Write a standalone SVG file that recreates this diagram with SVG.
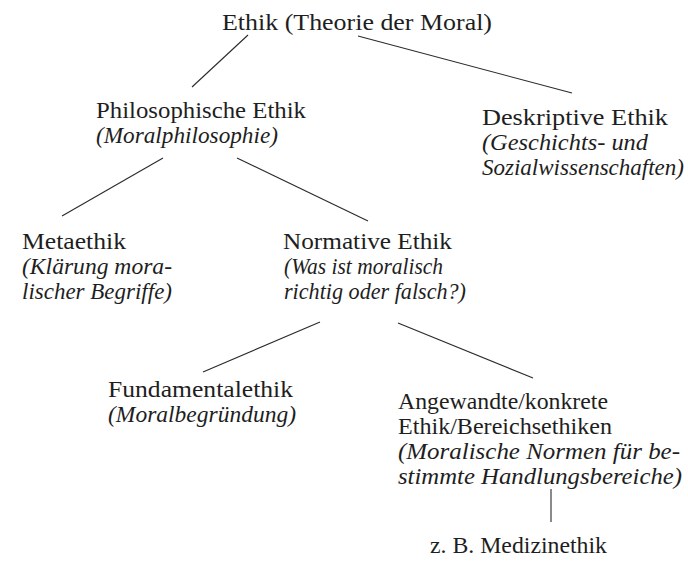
<svg xmlns="http://www.w3.org/2000/svg" width="688" height="571" viewBox="0 0 688 571">
<style>
text{font-family:"Liberation Serif","Times New Roman",serif;font-size:23px;fill:#1e1e1e}
.i{font-style:italic}
.c line{stroke:#2a2a2a;stroke-width:1.1}
</style>
<rect width="688" height="571" fill="#ffffff"/>
<g class="c" id="connectors">
<line x1="248" y1="35" x2="192" y2="87"/>
<line x1="358" y1="36" x2="572" y2="93"/>
<line x1="163" y1="158" x2="62" y2="216"/>
<line x1="237" y1="158" x2="368" y2="221"/>
<line x1="320" y1="322" x2="203" y2="372"/>
<line x1="398" y1="323" x2="533" y2="378"/>
<line x1="551" y1="489" x2="551" y2="522"/>
</g>
<g id="n-ethik"><text x="222" y="30" textLength="270" lengthAdjust="spacingAndGlyphs">Ethik (Theorie der Moral)</text></g>
<g id="n-philosophische"><text x="96" y="118" textLength="210" lengthAdjust="spacingAndGlyphs">Philosophische Ethik</text><text class="i" x="96" y="143" textLength="182" lengthAdjust="spacingAndGlyphs">(Moralphilosophie)</text></g>
<g id="n-deskriptive"><text x="482" y="125" textLength="186" lengthAdjust="spacingAndGlyphs">Deskriptive Ethik</text><text class="i" x="482" y="150" textLength="166" lengthAdjust="spacingAndGlyphs">(Geschichts- und</text><text class="i" x="482" y="175" textLength="202" lengthAdjust="spacingAndGlyphs">Sozialwissenschaften)</text></g>
<g id="n-metaethik"><text x="22" y="249" textLength="104" lengthAdjust="spacingAndGlyphs">Metaethik</text><text class="i" x="22" y="274" textLength="150" lengthAdjust="spacingAndGlyphs">(Klärung mora-</text><text class="i" x="22" y="299" textLength="150" lengthAdjust="spacingAndGlyphs">lischer Begriffe)</text></g>
<g id="n-normative"><text x="283" y="249" textLength="169" lengthAdjust="spacingAndGlyphs">Normative Ethik</text><text class="i" x="284" y="274" textLength="159" lengthAdjust="spacingAndGlyphs">(Was ist moralisch</text><text class="i" x="284" y="299" textLength="182" lengthAdjust="spacingAndGlyphs">richtig oder falsch?)</text></g>
<g id="n-fundamental"><text x="108" y="397" textLength="185" lengthAdjust="spacingAndGlyphs">Fundamentalethik</text><text class="i" x="108" y="422" textLength="188" lengthAdjust="spacingAndGlyphs">(Moralbegründung)</text></g>
<g id="n-angewandte"><text x="398" y="409" textLength="210" lengthAdjust="spacingAndGlyphs">Angewandte/konkrete</text><text x="398" y="434" textLength="214" lengthAdjust="spacingAndGlyphs">Ethik/Bereichsethiken</text><text class="i" x="398" y="459" textLength="282" lengthAdjust="spacingAndGlyphs">(Moralische Normen für be-</text><text class="i" x="398" y="484" textLength="284" lengthAdjust="spacingAndGlyphs">stimmte Handlungsbereiche)</text></g>
<g id="n-medizin"><text x="430" y="553" textLength="177" lengthAdjust="spacingAndGlyphs">z. B. Medizinethik</text></g>
</svg>
